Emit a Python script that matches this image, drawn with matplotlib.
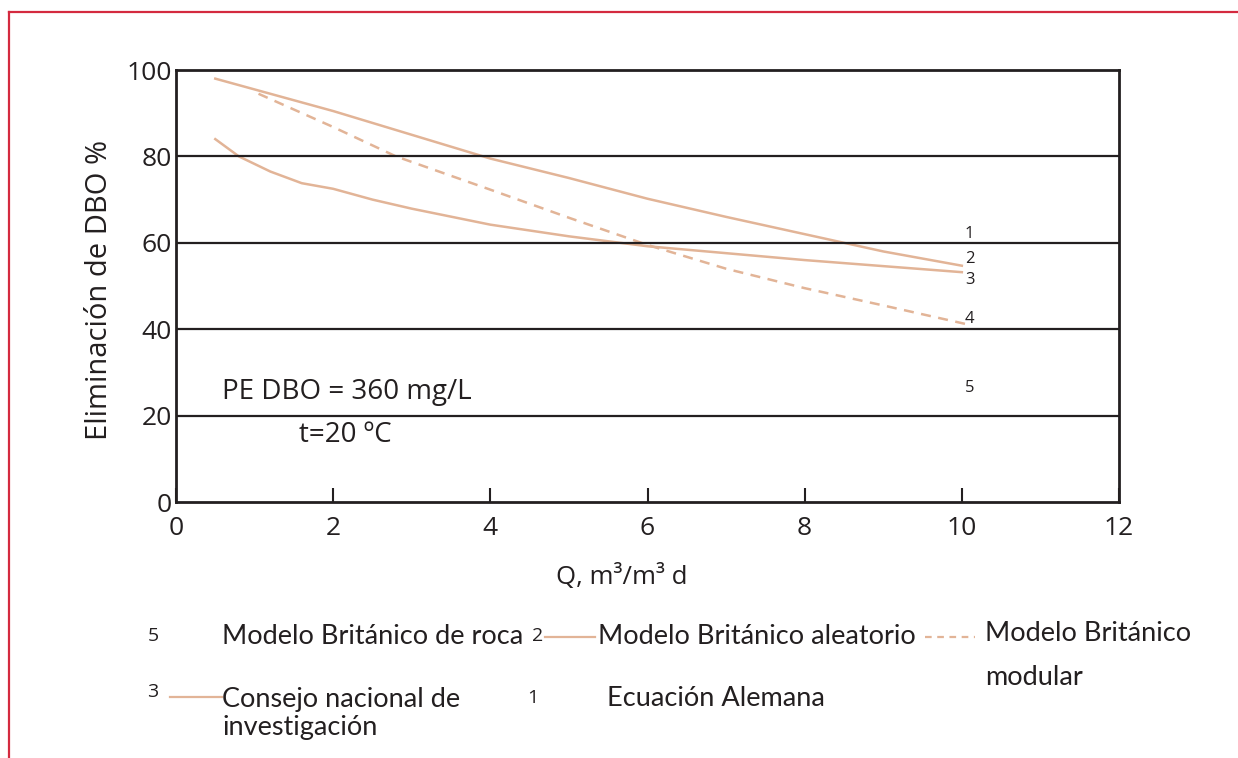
import matplotlib.pyplot as plt
from matplotlib.lines import Line2D

# Curve data
q_aleatorio = [0.5, 1, 2, 3, 4, 5, 6, 7, 8, 9, 10]
dbo_aleatorio = [98, 95.5, 90.5, 85, 79.5, 75, 70.2, 66, 62, 58, 54.7]

q_consejo = [0.5, 0.8, 1.2, 1.6, 2, 2.5, 3, 4, 5, 6, 7, 8, 9, 10]
dbo_consejo = [84, 80, 76.5, 73.8, 72.5, 70, 67.9, 64.2, 61.5, 59.2, 57.6, 56, 54.6, 53.2]

q_modular = [1.05, 2, 2.8, 4, 5, 6, 7, 8, 9, 10.05]
dbo_modular = [94.5, 86.8, 80, 72.3, 65.8, 59.5, 54, 49.5, 45.5, 41.2]

x_ticks = [0, 2, 4, 6, 8, 10, 12]
y_ticks = [0, 20, 40, 60, 80, 100]

curve_labels = ['1', '2', '3', '4', '5']
curve_label_y = [62, 56.3, 51.5, 42.3, 26.5]

legend_texts = ['Modelo Británico de roca', 'Modelo Británico aleatorio',
                'Modelo Británico\nmodular', 'Consejo nacional de\ninvestigación',
                'Ecuación Alemana']

W, H = 1238, 758
curve_color = '#e2b497'
ink = '#231f20'
plt.rcParams['font.family'] = ['Open Sans', 'DejaVu Sans']

fig = plt.figure(figsize=(W / 100, H / 100), dpi=100)
ax = fig.add_axes([176 / W, 1 - 502 / H, (1119 - 176) / W, (502 - 70) / H])


def fx(px):
    return px / W


def fy(py):
    return 1 - py / H


# red page frame
fig.add_artist(Line2D([fx(9), 1], [fy(12), fy(12)], color='#d42a3f', lw=1.6))
fig.add_artist(Line2D([fx(9), fx(9)], [fy(12), 0], color='#d42a3f', lw=1.6))

ax.plot(q_aleatorio, dbo_aleatorio, color=curve_color, lw=1.8)
ax.plot(q_consejo, dbo_consejo, color=curve_color, lw=1.8)
ax.plot(q_modular, dbo_modular, color=curve_color, lw=1.8, ls=(0, (4, 3)))

for y in y_ticks[1:-1]:
    ax.axhline(y, color=ink, lw=1.6)

ax.set_xlim(0, 12)
ax.set_ylim(0, 100)
ax.set_xticks(x_ticks)
ax.set_yticks(y_ticks)
ax.tick_params(axis='x', direction='in', length=10, width=1.5, color=ink,
               labelsize=19, labelcolor=ink, pad=10)
ax.tick_params(axis='y', length=0, labelsize=19, labelcolor=ink, pad=3)
for s in ax.spines.values():
    s.set_color(ink)
    s.set_linewidth(2)

ax.set_xlabel('Q, m³/m³ d', fontsize=18.5, color=ink)
ax.xaxis.set_label_coords(0.473, -0.143)
ax.set_ylabel('Eliminación de DBO %', fontsize=21, color=ink)
ax.yaxis.set_label_coords(-0.066, 0.49)

for lab, y in zip(curve_labels, curve_label_y):
    ax.text(10.1, y, lab, fontsize=12, color=ink, ha='center', va='center')

ax.text(0.59, 25.5, 'PE DBO = 360 mg/L', fontsize=20, color=ink, va='center')
ax.text(1.56, 15.5, 't=20 ºC', fontsize=20, color=ink, va='center')

# legend under the chart
lf = dict(fontsize=19.5, color=ink, va='center', family=['Lato', 'DejaVu Sans'])
nf = dict(fontsize=14, color=ink, va='center', ha='center')
fig.text(fx(153), fy(636), '5', **nf)
fig.text(fx(222), fy(636), legend_texts[0], **lf)
fig.text(fx(538), fy(636), '2', **nf)
fig.add_artist(Line2D([fx(545), fx(595)], [fy(637), fy(637)], color=curve_color, lw=1.6))
fig.text(fx(598), fy(636), legend_texts[1], **lf)
fig.add_artist(Line2D([fx(925), fx(975)], [fy(637), fy(637)], color=curve_color, lw=1.6,
                      ls=(0, (3, 2.5))))
fig.text(fx(985), fy(621), legend_texts[2], linespacing=1.95,
         **{**lf, 'va': 'top'})
fig.text(fx(153), fy(692), '3', **nf)
fig.add_artist(Line2D([fx(170), fx(222)], [fy(697), fy(697)], color=curve_color, lw=1.6))
fig.text(fx(222), fy(687), legend_texts[3], linespacing=1.15,
         **{**lf, 'va': 'top'})
fig.text(fx(533), fy(698), '1', **nf)
fig.text(fx(607), fy(698), legend_texts[4], **lf)

fig.savefig('out.png', dpi=100)
